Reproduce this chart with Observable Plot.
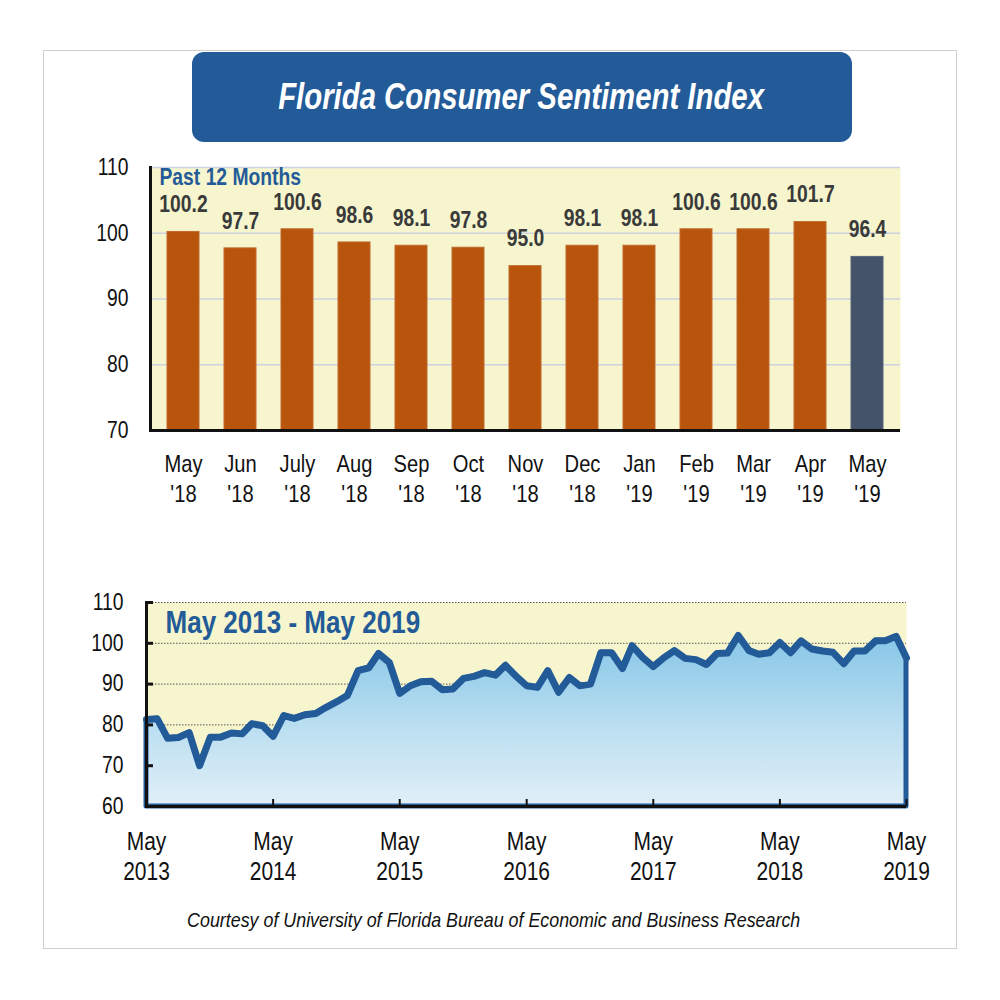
<!DOCTYPE html>
<html><head><meta charset="utf-8">
<script src="https://cdn.jsdelivr.net/npm/d3@7"></script>
<script src="https://cdn.jsdelivr.net/npm/@observablehq/plot@0.6"></script>
<style>
body{margin:0;background:#fff;}
#page{position:relative;width:1000px;height:1000px;font-family:"Liberation Sans","Arial",sans-serif;}
#frame{position:absolute;left:43px;top:50px;width:912px;height:897px;border:1px solid #cfcfcf;}
#title{position:absolute;left:192px;top:52px;width:660px;height:90px;background:#235b99;border-radius:12px;color:#fff;font-weight:bold;font-style:italic;font-size:36px;display:flex;align-items:center;justify-content:center;}
#title span{display:inline-block;transform:scaleX(0.815);white-space:nowrap;margin-right:2px;}
#top{position:absolute;left:0;top:140px;}
#bottom{position:absolute;left:0;top:580px;}
#caption{position:absolute;left:0;width:988px;top:908px;text-align:center;font-style:italic;font-size:21px;color:#111;}
#caption span{display:inline-block;transform:scaleX(0.85);white-space:nowrap;}
</style></head>
<body>
<div id="page">
  <div id="frame"></div>
  <div id="title"><span>Florida Consumer Sentiment Index</span></div>
  <div id="top"></div>
  <div id="bottom"></div>
  <div id="caption"><span>Courtesy of University of Florida Bureau of Economic and Business Research</span></div>
</div>
<script>
const FONT = '"Liberation Sans","Arial",sans-serif';

// ---- Past 12 months (bar chart) ----
const barMonths = ["May","Jun","July","Aug","Sep","Oct","Nov","Dec","Jan","Feb","Mar","Apr","May"];
const barYears  = ["'18","'18","'18","'18","'18","'18","'18","'18","'19","'19","'19","'19","'19"];
const barValues = [100.2, 97.7, 100.6, 98.6, 98.1, 97.8, 95.0, 98.1, 98.1, 100.6, 100.6, 101.7, 96.4];
const barYTicks = [70, 80, 90, 100, 110];
const barGrid = [80, 90, 100, 110];

// ---- May 2013 - May 2019 (monthly line) ----
const lineStart = {year: 2013, month: 4}; // May 2013 (0-based month)
const lineValues = [
  81.3, 81.5, 76.7, 76.9, 78.1, 70.0, 77.0, 77.0,                         // 2013 May-Dec
  78.0, 77.8, 80.3, 79.8, 77.2, 82.3, 81.6, 82.5, 82.8, 84.3, 85.7, 87.2, // 2014
  93.3, 94.0, 97.5, 95.3, 87.7, 89.6, 90.6, 90.7, 88.6, 88.8, 91.4, 91.9, // 2015
  92.8, 92.2, 94.6, 91.9, 89.6, 89.2, 93.3, 88.0, 91.6, 89.6, 90.0, 97.7, // 2016
  97.7, 93.8, 99.4, 96.5, 94.3, 96.5, 98.2, 96.3, 96.0, 94.8, 97.5, 97.6, // 2017
  101.9, 98.2, 97.3, 97.7, 100.2, 97.7, 100.6, 98.6, 98.1, 97.8, 95.0, 98.1, // 2018
  98.1, 100.6, 100.6, 101.7, 96.4                                          // 2019 Jan-May
];
const lineYTicks = [60, 70, 80, 90, 100, 110];
const lineGrid = [80, 90, 100, 110];
const lineTickYears = [2013, 2014, 2015, 2016, 2017, 2018, 2019];

// ---- build tables ----
const bars = barMonths.map((m, i) => ({label: m + "\n" + barYears[i], value: barValues[i], current: i === barMonths.length - 1}));
const series = lineValues.map((v, i) => ({date: new Date(Date.UTC(lineStart.year, lineStart.month + i, 1)), value: v}));
const mayTicks = lineTickYears.map(y => new Date(Date.UTC(y, 4, 1)));

// condense SVG text horizontally (no narrow font installed)
function condense(svg, s) {
  svg.querySelectorAll("text").forEach(t => {
    const tr = t.getAttribute("transform");
    if (tr) t.setAttribute("transform", tr + ` scale(${s},1)`);
    else {
      const x = +(t.getAttribute("x") || 0), y = +(t.getAttribute("y") || 0);
      t.removeAttribute("x"); t.removeAttribute("y");
      t.setAttribute("transform", `translate(${x},${y}) scale(${s},1)`);
    }
  });
}

const topChart = Plot.plot({
  width: 1000, height: 380,
  marginLeft: 150, marginRight: 100, marginTop: 27, marginBottom: 90,
  style: {fontFamily: FONT, fontSize: "22px", color: "#111", background: "transparent"},
  x: {domain: bars.map(d => d.label), paddingInner: 0.44, paddingOuter: 0.22},
  y: {domain: [70, 110]},
  marks: [
    Plot.frame({fill: "#f6f5cd", stroke: null}),
    Plot.gridY(barGrid, {stroke: "#cdd2e2", strokeOpacity: 1, strokeWidth: 1.5}),
    Plot.barY(bars, {x: "label", y1: 70, y2: "value", fill: d => d.current ? "#44536a" : "#b8540c", stroke: d => d.current ? "#55647a" : "#c06a2e", strokeWidth: 1}),
    Plot.text(bars, {x: "label", y: "value", text: d => d.value.toFixed(1), dy: -27, fontWeight: "bold", fontSize: 23, fill: "#3a3a3a"}),
    Plot.text(["Past 12 Months"], {frameAnchor: "top-left", dx: 9, dy: 1, fontWeight: "bold", fontSize: 23, fill: "#235b99"}),
    Plot.axisY({ticks: barYTicks, tickSize: 0, tickPadding: 22, fontSize: 23, label: null}),
    Plot.axisX({tickSize: 0, tickPadding: 21, fontSize: 24, lineHeight: 1.22, label: null}),
    Plot.ruleY([70], {stroke: "#111", strokeWidth: 3}),
    Plot.frame({anchor: "left", stroke: "#111", strokeWidth: 3})
  ]
});
condense(topChart, 0.84);
document.getElementById("top").appendChild(topChart);

const bottomChart = Plot.plot({
  width: 1000, height: 310,
  marginLeft: 146, marginRight: 94, marginTop: 22, marginBottom: 84,
  style: {fontFamily: FONT, fontSize: "22px", color: "#111", background: "transparent"},
  x: {type: "utc", domain: [series[0].date, series[series.length - 1].date]},
  y: {domain: [60, 110]},
  marks: [
    Plot.frame({fill: "#f6f5cd", stroke: null}),
    Plot.gridY(lineGrid, {stroke: "#555", strokeOpacity: 1, strokeWidth: 1, strokeDasharray: "1.5,1.5"}),
    Plot.areaY(series, {x: "date", y1: 60, y2: "value", fill: "url(#skyGrad)", stroke: "#235b99", strokeWidth: 5}),
    Plot.lineY(series, {x: "date", y: "value", stroke: "#235b99", strokeWidth: 7, strokeLinejoin: "round"}),
    Plot.text(["May 2013 - May 2019"], {frameAnchor: "top-left", dx: 19, dy: 8, fontWeight: "bold", fontSize: 31, fill: "#235b99"}),
    Plot.axisY({ticks: lineYTicks, tickSize: -7, tickPadding: 30, strokeWidth: 3, fontSize: 23, label: null}),
    Plot.axisX({ticks: mayTicks, tickSize: -7, tickPadding: 29, strokeWidth: 2, fontSize: 25, lineHeight: 1.2, tickFormat: d => "May\n" + d.getUTCFullYear(), label: null}),
    Plot.ruleY([60], {stroke: "#111", strokeWidth: 3}),
    Plot.frame({anchor: "left", stroke: "#111", strokeWidth: 3})
  ]
});
condense(bottomChart, 0.84);
const defs = d3.select(bottomChart).insert("defs", ":first-child");
const grad = defs.append("linearGradient").attr("id", "skyGrad").attr("x1", 0).attr("y1", 0).attr("x2", 0).attr("y2", 1);
grad.append("stop").attr("offset", "0").attr("stop-color", "#86c6e7");
grad.append("stop").attr("offset", "0.55").attr("stop-color", "#bcdff1");
grad.append("stop").attr("offset", "1").attr("stop-color", "#e1eff7");
document.getElementById("bottom").appendChild(bottomChart);
</script>
</body></html>
